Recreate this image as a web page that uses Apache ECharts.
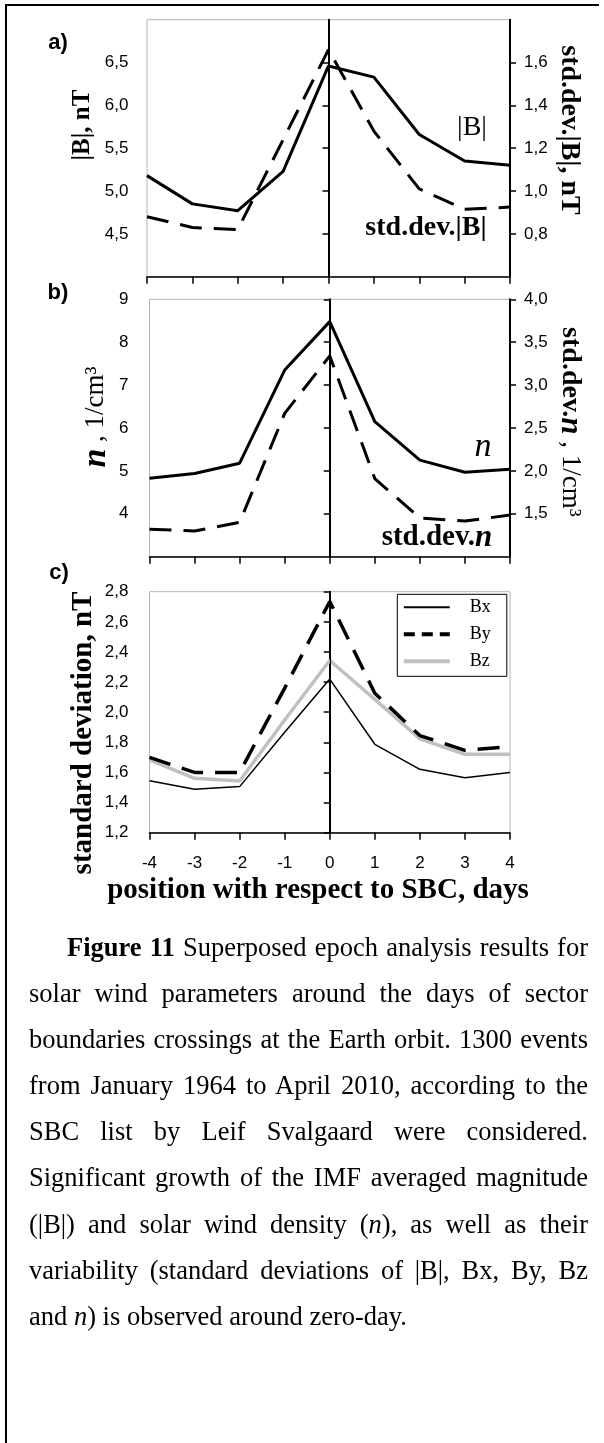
<!DOCTYPE html>
<html>
<head>
<meta charset="utf-8">
<script src="https://cdn.jsdelivr.net/npm/echarts@6/dist/echarts.min.js"></script>
<style>
  html, body { margin: 0; padding: 0; background: #fff; }
  #wrap { position: relative; width: 604px; height: 1443px; overflow: hidden; }
  #frame { position: absolute; left: 5px; top: 4px; width: 592px; height: 1460px;
           border-left: 2px solid #000; border-top: 2px solid #000; }
  #chart { position: absolute; left: 0; top: 0; width: 604px; height: 940px; }
  #caption { position: absolute; left: 29px; top: 924px; width: 559px;
             font-family: "Liberation Serif", "Times New Roman", serif;
             font-size: 26.5px; line-height: 46.1px; text-align: justify; color: #000; }
  #caption p { margin: 0; text-indent: 38px; }
</style>
</head>
<body>
<div id="wrap">
  <div id="frame"></div>
  <div id="chart"></div>
  <div id="caption"><p><b>Figure 11</b> Superposed epoch analysis results for solar wind parameters around the days of sector boundaries crossings at the Earth orbit. 1300 events from January 1964 to April 2010, according to the SBC list by Leif Svalgaard were considered. Significant growth of the IMF averaged magnitude (|B|) and solar wind density (<i>n</i>), as well as their variability (standard deviations of |B|, Bx, By, Bz and <i>n</i>) is observed around zero-day.</p></div>
</div>
<script>
// Superposed epoch: days relative to the sector boundary crossing
const days = [-4, -3, -2, -1, 0, 1, 2, 3, 4];

// a) IMF magnitude |B| (nT) and its standard deviation (nT)
const magB   = [5.18, 4.85, 4.77, 5.23, 6.46, 6.33, 5.66, 5.35, 5.30];
const sdMagB = [0.88, 0.83, 0.82, 1.24, 1.66, 1.28, 1.01, 0.915, 0.925];

// b) solar wind density n (1/cm3) and its standard deviation
const dens   = [4.83, 4.94, 5.18, 7.35, 8.48, 6.15, 5.25, 4.97, 5.04];
const sdDens = [1.32, 1.30, 1.40, 2.67, 3.34, 1.91, 1.45, 1.415, 1.485];

// c) standard deviations of the IMF components (nT)
const sdBx = [1.545, 1.488, 1.506, 1.867, 2.22, 1.787, 1.621, 1.565, 1.599];
const sdBy = [1.70, 1.60, 1.60, 2.16, 2.735, 2.126, 1.845, 1.747, 1.771];
const sdBz = [1.683, 1.561, 1.543, 1.948, 2.343, 2.085, 1.823, 1.721, 1.721];

const xTicks = ['-4', '-3', '-2', '-1', '0', '1', '2', '3', '4'];

const pts = vals => days.map((d, i) => [d, vals[i]]);
const comma = v => (Math.round(v * 10) / 10).toFixed(1).replace('.', ',');

const SANS = '"Liberation Sans", Arial, sans-serif';
const SERIF = '"Liberation Serif", "Times New Roman", serif';
const BLACK = '#000';
const GREY = '#c0c0c0';

const tickLabel = { color: BLACK, fontFamily: SANS, fontSize: 17 };

function xAxisFor(gi, withLabels) {
  return {
    type: 'value', gridIndex: gi, min: -4, max: 4, interval: 1,
    axisLine: { show: true, onZero: false, lineStyle: { color: BLACK, width: 1.5 } },
    axisTick: { show: true, inside: false, length: 7, lineStyle: { color: BLACK, width: 1.5 } },
    axisLabel: withLabels
      ? Object.assign({ show: true, margin: 22, formatter: v => xTicks[days.indexOf(Math.round(v))] }, tickLabel)
      : { show: false },
    splitLine: { show: false }
  };
}

function yAxisFor(gi, pos, min, max, step, fmt, margin, hideMin, hideMax) {
  return {
    type: 'value', gridIndex: gi, position: pos, min: min, max: max, interval: step,
    axisLine: { show: true, lineStyle: { color: BLACK, width: 2 } },
    axisTick: { show: true, inside: false, length: 6, lineStyle: { color: BLACK, width: 1.5 } },
    axisLabel: Object.assign({
      show: true, margin: margin, formatter: fmt,
      showMinLabel: !hideMin, showMaxLabel: !hideMax
    }, tickLabel),
    splitLine: { show: false }
  };
}

const zeroLine = {
  silent: true, symbol: 'none', animation: false,
  label: { show: false },
  lineStyle: { color: BLACK, width: 1, type: 'solid' },
  data: [{ xAxis: 0 }]
};

function lineSeries(name, xi, yi, vals, style, withZero) {
  const s = {
    name: name, type: 'line', xAxisIndex: xi, yAxisIndex: yi,
    data: pts(vals), symbol: 'none', showSymbol: false,
    lineStyle: style, itemStyle: { color: style.color },
    z: 3
  };
  if (withZero) s.markLine = zeroLine;
  return s;
}

const solid = { color: BLACK, width: 3, type: 'solid' };
const dashed = { color: BLACK, width: 3, type: [22, 12] };

const gridBorder = { show: true, borderColor: '#b4b4b4', borderWidth: 1, backgroundColor: 'transparent' };

const option = {
  animation: false,
  backgroundColor: 'transparent',
  grid: [
    Object.assign({ left: 147, top: 19.7, width: 363, height: 257 }, gridBorder),
    Object.assign({ left: 149.5, top: 299.3, width: 360.5, height: 257.4 }, gridBorder),
    Object.assign({ left: 149.5, top: 591.7, width: 360.5, height: 241 }, gridBorder)
  ],
  xAxis: [xAxisFor(0, false), xAxisFor(1, false), xAxisFor(2, true)],
  yAxis: [
    yAxisFor(0, 'left', 4, 7, 0.5, comma, 18.5, true, true),
    yAxisFor(0, 'right', 0.6, 1.8, 0.2, comma, 14, true, true),
    yAxisFor(1, 'left', 3, 9, 1, v => String(Math.round(v)), 21, true, false),
    yAxisFor(1, 'right', 1, 4, 0.5, comma, 14, true, false),
    yAxisFor(2, 'left', 1.2, 2.8, 0.2, comma, 21, false, false)
  ],
  legend: {
    data: [
      { name: 'Bx', lineStyle: { color: BLACK, width: 2, type: 'solid' } },
      { name: 'By', lineStyle: { color: BLACK, width: 4, type: [11, 7] } },
      { name: 'Bz', lineStyle: { color: GREY, width: 4, type: 'solid' } }
    ],
    orient: 'vertical', left: 397.3, top: 594.3,
    itemWidth: 46, itemHeight: 14, itemGap: 9,
    padding: [4, 16, 6, 4.5],
    borderColor: BLACK, borderWidth: 1, backgroundColor: '#fff',
    itemStyle: { opacity: 0 },
    textStyle: { color: BLACK, fontFamily: SERIF, fontSize: 18, padding: [0, 0, 0, 15] },
    selectedMode: false
  },
  series: [
    lineSeries('|B|', 0, 0, magB, solid, true),
    lineSeries('std.dev.|B|', 0, 1, sdMagB, dashed, false),
    lineSeries('n', 1, 2, dens, solid, true),
    lineSeries('std.dev.n', 1, 3, sdDens, dashed, false),
    lineSeries('Bz', 2, 4, sdBz, { color: GREY, width: 3.5, type: 'solid' }, false),
    lineSeries('By', 2, 4, sdBy, { color: BLACK, width: 3.5, type: [22, 12] }, false),
    lineSeries('Bx', 2, 4, sdBx, { color: BLACK, width: 1.5, type: 'solid' }, true)
  ],
  graphic: [
    // panel letters
    { type: 'text', x: 58, y: 43, style: { text: 'a)', fill: BLACK, fontFamily: SANS, fontWeight: 'bold', fontSize: 22, align: 'center', verticalAlign: 'middle' } },
    { type: 'text', x: 58, y: 293, style: { text: 'b)', fill: BLACK, fontFamily: SANS, fontWeight: 'bold', fontSize: 22, align: 'center', verticalAlign: 'middle' } },
    { type: 'text', x: 59, y: 573, style: { text: 'c)', fill: BLACK, fontFamily: SANS, fontWeight: 'bold', fontSize: 22, align: 'center', verticalAlign: 'middle' } },

    // axis titles
    { type: 'text', x: 83, y: 125, rotation: Math.PI / 2,
      style: { text: '|B|, nT', fill: BLACK, fontFamily: SERIF, fontWeight: 'bold', fontSize: 25, align: 'center', verticalAlign: 'middle' } },
    { type: 'text', x: 569, y: 130, rotation: -Math.PI / 2,
      style: { text: 'std.dev.|B|, nT', fill: BLACK, fontFamily: SERIF, fontWeight: 'bold', fontSize: 28, align: 'center', verticalAlign: 'middle' } },
    { type: 'text', x: 96, y: 417, rotation: Math.PI / 2,
      style: { text: '{ni|n}{r| , 1/cm³}', fill: BLACK, align: 'center', verticalAlign: 'middle',
        rich: {
          ni: { fontFamily: SERIF, fontWeight: 'bold', fontStyle: 'italic', fontSize: 34, fill: BLACK },
          r: { fontFamily: SERIF, fontSize: 27, fill: BLACK }
        } } },
    { type: 'text', x: 570, y: 422, rotation: -Math.PI / 2,
      style: { text: '{b|std.dev.}{bi|n}{r| , 1/cm³}', fill: BLACK, align: 'center', verticalAlign: 'middle',
        rich: {
          b: { fontFamily: SERIF, fontWeight: 'bold', fontSize: 28, fill: BLACK },
          bi: { fontFamily: SERIF, fontWeight: 'bold', fontStyle: 'italic', fontSize: 31, fill: BLACK },
          r: { fontFamily: SERIF, fontSize: 27, fill: BLACK }
        } } },
    { type: 'text', x: 84, y: 733, rotation: Math.PI / 2,
      style: { text: 'standard deviation, nT', fill: BLACK, fontFamily: SERIF, fontWeight: 'bold', fontSize: 29, align: 'center', verticalAlign: 'middle' } },
    { type: 'text', x: 318, y: 891,
      style: { text: 'position with respect to SBC, days', fill: BLACK, fontFamily: SERIF, fontWeight: 'bold', fontSize: 29, align: 'center', verticalAlign: 'middle' } },

    // curve labels
    { type: 'text', x: 472, y: 128, z: 10,
      style: { text: '|B|', fill: BLACK, fontFamily: SERIF, fontSize: 28, align: 'center', verticalAlign: 'middle' } },
    { type: 'text', x: 426, y: 228, z: 10,
      style: { text: 'std.dev.|B|', fill: BLACK, fontFamily: SERIF, fontWeight: 'bold', fontSize: 28, align: 'center', verticalAlign: 'middle' } },
    { type: 'text', x: 483, y: 447, z: 10,
      style: { text: 'n', fill: BLACK, fontFamily: SERIF, fontStyle: 'italic', fontSize: 34, align: 'center', verticalAlign: 'middle' } },
    { type: 'text', x: 437, y: 538, z: 10,
      style: { text: '{b|std.dev.}{bi|n}', fill: BLACK, align: 'center', verticalAlign: 'middle',
        rich: {
          b: { fontFamily: SERIF, fontWeight: 'bold', fontSize: 29, fill: BLACK },
          bi: { fontFamily: SERIF, fontWeight: 'bold', fontStyle: 'italic', fontSize: 31, fill: BLACK }
        } } }
  ]
};

const chart = echarts.init(document.getElementById('chart'), null, { renderer: 'canvas' });
chart.setOption(option);
</script>
</body>
</html>
